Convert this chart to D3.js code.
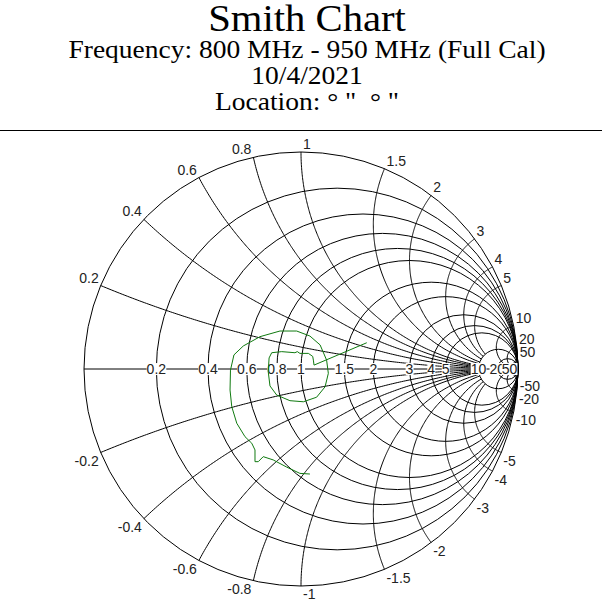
<!DOCTYPE html>
<html>
<head>
<meta charset="utf-8">
<script src="https://cdn.jsdelivr.net/npm/d3@7"></script>
<style>
  body { margin: 0; background: #fff; }
  .title { font-family: "Liberation Serif", "Times New Roman", serif; fill: #000; white-space: pre; }
  .tick-label { font-family: "Liberation Sans", Arial, sans-serif; font-size: 14px; fill: #222; }
</style>
</head>
<body>
<svg id="chart"></svg>
<script>
// header text
const titleLines = [
  "Frequency: 800 MHz - 950 MHz (Full Cal)",
  "10/4/2021",
  "Location: \u00b0 \"  \u00b0 \""
];

// normalized resistance circles and reactance arcs
const resistanceValues = [0.2, 0.4, 0.6, 0.8, 1, 1.5, 2, 3, 4, 5, 10, 20, 50];
const reactanceValues = [0.2, 0.4, 0.6, 0.8, 1, 1.5, 2, 3, 4, 5, 10, 20, 50];
// resistance at which each reactance arc stops (Infinity = runs to the open point)
const reactanceStop = [10, 10, 10, 10, 10, 10, 10, 10, 10, 10, 50, 50, Infinity];

const gammaRe = [0.041, -0.005, -0.066, -0.128, -0.174, -0.197, -0.212, -0.212, -0.227, -0.258,
  -0.296, -0.319, -0.327, -0.325, -0.309, -0.266, -0.189, -0.097, -0.020, 0.041,
  0.088, 0.118, 0.126, 0.111, 0.072, 0.011, -0.051, -0.112, -0.143, -0.151,
  -0.147, -0.135, -0.089, -0.028, -0.017, -0.005, 0.034, 0.054, 0.057, 0.060, 0.303];
const gammaIm = [-0.484, -0.481, -0.452, -0.419, -0.404, -0.427, -0.427, -0.373, -0.342, -0.312,
  -0.250, -0.174, -0.097, -0.005, 0.065, 0.106, 0.149, 0.175, 0.175, 0.152,
  0.111, 0.041, -0.020, -0.082, -0.130, -0.151, -0.146, -0.120, -0.078, -0.012,
  0.051, 0.075, 0.080, 0.075, 0.080, 0.072, 0.072, 0.058, 0.041, 0.018, 0.121];

// z = r + jx  ->  gamma = (z - 1) / (z + 1)
function toGamma(r, x) {
  const d = (r + 1) * (r + 1) + x * x;
  return [(r * r + x * x - 1) / d, (2 * x) / d];
}

class SmithChart {

  constructor(_config) {
    this.config = {
      parentElement: _config.parentElement,
      containerWidth: 602,
      containerHeight: 602,
      cx: 301,
      cy: 369,
      radius: 217
    };
    this.initVis();
  }

  initVis() {
    let vis = this;
    const c = vis.config;

    vis.svg = d3.select(c.parentElement)
        .attr("width", c.containerWidth)
        .attr("height", c.containerHeight);

    // heading (text in the reference is a bit wider than plain Times)
    const head = vis.svg.append("g")
        .attr("transform", `translate(${c.containerWidth / 2 + 6},0) scale(1.1,1)`);
    head.append("text")
        .attr("class", "title")
        .attr("y", 31)
        .attr("text-anchor", "middle")
        .style("font-size", "37px")
        .text("Smith Chart");
    head.selectAll(".subtitle")
        .data(titleLines)
        .join("text")
        .attr("class", "title subtitle")
        .attr("y", (d, i) => 58 + i * 26)
        .attr("text-anchor", "middle")
        .style("font-size", "25px")
        .text(d => d);

    vis.svg.append("line")
        .attr("x1", 0).attr("x2", c.containerWidth)
        .attr("y1", 130.5).attr("y2", 130.5)
        .attr("stroke", "#000");

    // gamma plane scales
    vis.xScale = d3.scaleLinear().domain([-1, 1]).range([c.cx - c.radius, c.cx + c.radius]);
    vis.yScale = d3.scaleLinear().domain([-1, 1]).range([c.cy + c.radius, c.cy - c.radius]);
    vis.k = c.radius;

    vis.grid = vis.svg.append("g");
    vis.labels = vis.svg.append("g");
    vis.trace = vis.svg.append("g");
  }

  updateVis() {
    let vis = this;
    vis.rCircles = [0].concat(resistanceValues).map(r => ({ cx: r / (r + 1), r: 1 / (r + 1), v: r }));
    vis.xArcs = [];
    reactanceValues.forEach((x, i) => {
      vis.xArcs.push({ v: x, stop: reactanceStop[i] });
      vis.xArcs.push({ v: -x, stop: reactanceStop[i] });
    });
    vis.points = gammaRe.map((re, i) => [re, gammaIm[i]]);
    vis.renderVis();
  }

  renderVis() {
    let vis = this;
    const line = d3.line()
        .x(d => vis.xScale(d[0]))
        .y(d => vis.yScale(d[1]));

    // reactance arcs, from the rim in to their stop circle
    vis.grid.selectAll(".x-arc")
        .data(vis.xArcs)
        .join("path")
        .attr("class", "x-arc")
        .attr("d", d => {
          const tMax = Math.atan(d.stop);
          const pts = d3.range(0, 201).map(j => toGamma(Math.tan(tMax * j / 200), d.v));
          return line(pts);
        })
        .attr("fill", "none")
        .attr("stroke", "#000");

    // horizontal axis (x = 0)
    vis.grid.append("line")
        .attr("x1", vis.xScale(-1)).attr("x2", vis.xScale(1))
        .attr("y1", vis.yScale(0)).attr("y2", vis.yScale(0))
        .attr("stroke", "#000");

    // resistance circles
    vis.grid.selectAll(".r-circle")
        .data(vis.rCircles)
        .join("circle")
        .attr("class", "r-circle")
        .attr("cx", d => vis.xScale(d.cx))
        .attr("cy", vis.yScale(0))
        .attr("r", d => d.r * vis.k)
        .attr("fill", "none")
        .attr("stroke", "#000");

    // resistance labels on the axis, with a white box behind
    const rLab = vis.labels.selectAll(".r-label")
        .data(resistanceValues)
        .join("g")
        .attr("class", "r-label")
        .attr("transform", d => `translate(${vis.xScale((d - 1) / (d + 1))},${vis.yScale(0)})`);
    rLab.append("text")
        .attr("class", "tick-label")
        .attr("text-anchor", "middle")
        .attr("dy", "0.36em")
        .text(d => d);
    rLab.each(function () {
      const g = d3.select(this);
      const bb = g.select("text").node().getBBox();
      g.insert("rect", "text")
          .attr("x", bb.x).attr("y", bb.y + 2)
          .attr("width", bb.width).attr("height", bb.height - 4)
          .attr("fill", "#fff");
    });

    // reactance labels around the rim
    vis.labels.selectAll(".x-label")
        .data(vis.xArcs)
        .join("text")
        .attr("class", "tick-label x-label")
        .each(function (d) {
          const p = toGamma(0, d.v);
          const right = p[0] >= -0.001;
          d3.select(this)
              .attr("x", vis.xScale(p[0]) + (right ? 2 : -2))
              .attr("y", vis.yScale(p[1]) + (d.v > 0 ? -3 : 3))
              .attr("text-anchor", right ? "start" : "end")
              .attr("dominant-baseline", d.v > 0 ? "auto" : "hanging");
        })
        .text(d => d.v);

    // measured trace
    vis.trace.append("path")
        .datum(vis.points)
        .attr("d", line)
        .attr("fill", "none")
        .attr("stroke", "#107a10");
  }
}

const chart = new SmithChart({ parentElement: "#chart" });
chart.updateVis();
</script>
</body>
</html>
